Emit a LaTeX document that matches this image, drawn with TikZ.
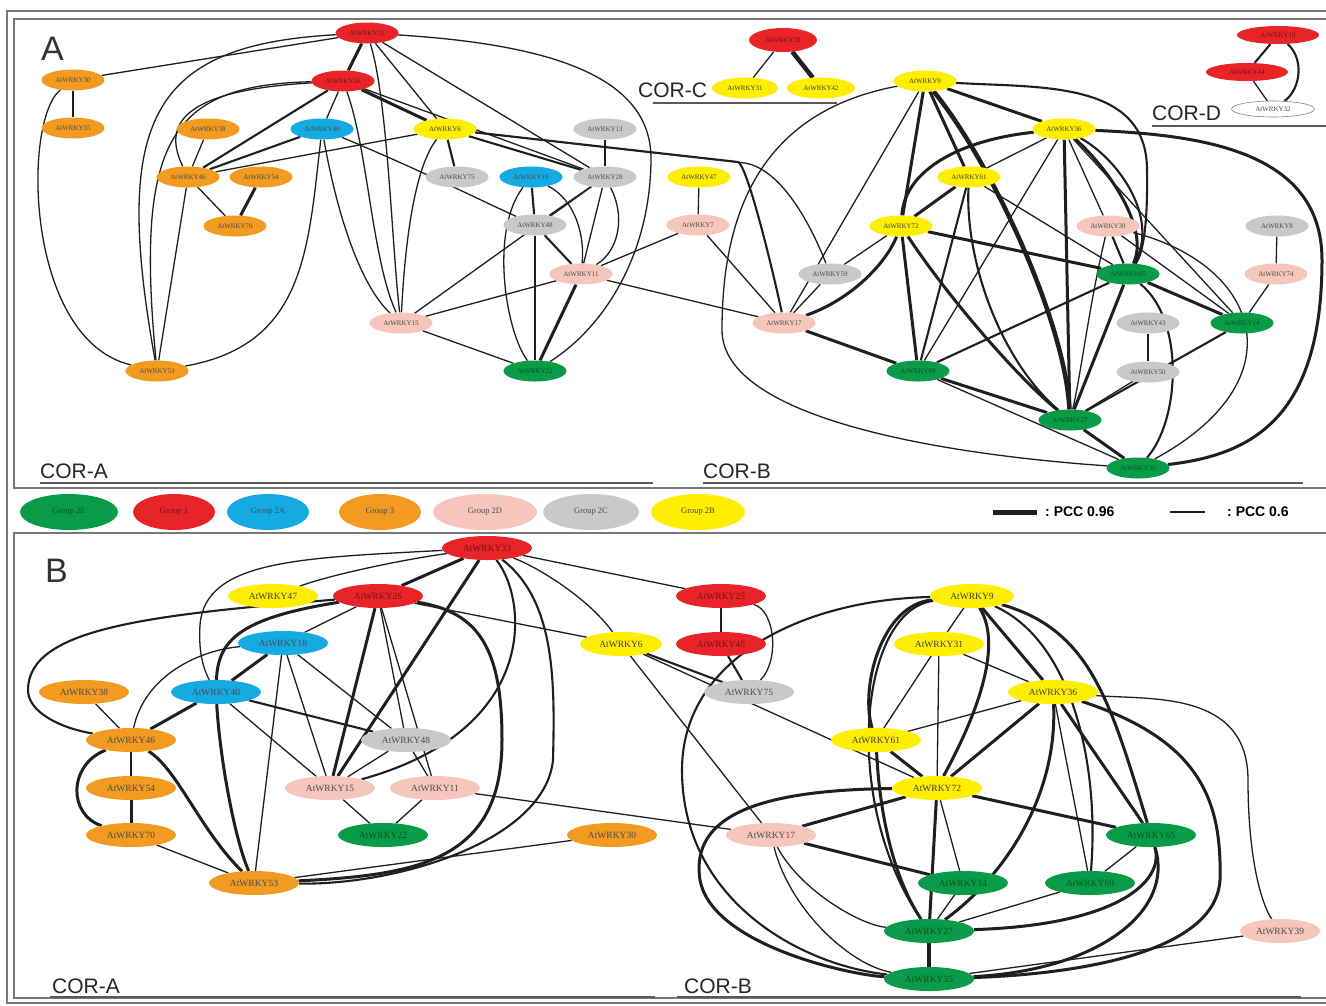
\documentclass[tikz,border=0pt]{standalone}
\usepackage{fontspec}
\setmainfont{Liberation Serif}
\newfontfamily\corfont{Liberation Sans}
\usetikzlibrary{shapes.geometric,backgrounds}
\definecolor{cG}{RGB}{10,155,72}
\definecolor{cR}{RGB}{232,36,40}
\definecolor{cB}{RGB}{20,170,226}
\definecolor{cO}{RGB}{243,154,32}
\definecolor{cP}{RGB}{246,198,186}
\definecolor{cC}{RGB}{200,201,203}
\definecolor{cY}{RGB}{255,238,0}
\definecolor{cFrame}{RGB}{120,120,120}
\tikzset{
 na/.style={ellipse,inner sep=0pt,minimum width=63pt,minimum height=21pt,font=\fontsize{7}{8}\selectfont},
 nb/.style={ellipse,inner sep=0pt,minimum width=90pt,minimum height=24pt,font=\fontsize{9.5}{10}\selectfont},
 lg/.style={ellipse,inner sep=0pt,minimum width=92pt,minimum height=36pt,font=\fontsize{8.5}{9}\selectfont},
 fG/.style={fill=cG,text=cG!55!black},
 fR/.style={fill=cR,text=cR!50!black},
 fB/.style={fill=cB,text=black!70},
 fO/.style={fill=cO,text=black!70},
 fP/.style={fill=cP,text=black!70},
 fC/.style={fill=cC,text=black!70},
 fY/.style={fill=cY,text=black!75},
 e1/.style={draw=black!88,line width=1.3pt},
 e2/.style={draw=black!88,line width=2.1pt},
 e3/.style={draw=black!88,line width=3pt},
 e4/.style={draw=black!88,line width=4.5pt},
 frm/.style={draw=cFrame,line width=1.3pt},
 cor/.style={font=\corfont\fontsize{21}{21}\selectfont,text=black!85,inner sep=0pt,anchor=base west},
 plab/.style={font=\corfont\fontsize{34}{34}\selectfont,text=black!80,inner sep=0pt,anchor=base west},
 uline/.style={draw=black!65,line width=1.2pt},
}
\begin{document}
\begin{tikzpicture}[x=1pt,y=-1pt]
\useasboundingbox (0,0) rectangle (1326,1005);
% ---------- Panel A nodes: COR-A ----------
\node[na,fR] (aR1) at (367,33) {AtWRKY33};
\node[na,fR] (aR2) at (343,81) {AtWRKY26};
\node[na,fO] (a30) at (73,80) {AtWRKY30};
\node[na,fO] (a55) at (73,128) {AtWRKY55};
\node[na,fO] (a38) at (208,129) {AtWRKY38};
\node[na,fB] (aB1) at (322,129) {AtWRKY40};
\node[na,fY] (a6) at (445,129) {AtWRKY6};
\node[na,fC] (a13) at (605,129) {AtWRKY13};
\node[na,fO] (a46) at (188,177) {AtWRKY46};
\node[na,fO] (a54) at (261,177) {AtWRKY54};
\node[na,fC] (a75) at (457,177) {AtWRKY75};
\node[na,fB] (aB2) at (531,177) {AtWRKY18};
\node[na,fC] (a28) at (605,177) {AtWRKY28};
\node[na,fY] (a47) at (699,177) {AtWRKY47};
\node[na,fO] (a70) at (235,226) {AtWRKY70};
\node[na,fC] (a48) at (535,225) {AtWRKY48};
\node[na,fP] (a7) at (698,225) {AtWRKY7};
\node[na,fP] (a11) at (581,274) {AtWRKY11};
\node[na,fC] (a59) at (830,274) {AtWRKY59};
\node[na,fP] (a15) at (401,323) {AtWRKY15};
\node[na,fP] (a17) at (784,323) {AtWRKY17};
\node[na,fO] (a53) at (157,371) {AtWRKY53};
\node[na,fG] (aG) at (535,371) {AtWRKY22};
% COR-C
\node[na,fR,minimum width=68pt,minimum height=24pt] (cR) at (783,40) {AtWRKY20};
\node[na,fY,minimum width=66pt] (c31) at (745,88) {AtWRKY31};
\node[na,fY,minimum width=68pt] (c42) at (821,88) {AtWRKY42};
% COR-D
\node[na,fR,minimum width=82pt,minimum height=18pt] (dR1) at (1278,35) {AtWRKY10};
\node[na,fR,minimum width=82pt,minimum height=18pt] (dR2) at (1247,72) {AtWRKY44};
\node[na,draw=black!50,line width=0.6pt,fill=white,text=black!70,minimum width=83pt,minimum height=16pt] (d32) at (1273,109) {AtWRKY32};
% COR-B (A)
\node[na,fY] (b9) at (925,81) {AtWRKY9};
\node[na,fY] (b36) at (1064,129) {AtWRKY36};
\node[na,fY] (b61) at (969,177) {AtWRKY61};
\node[na,fY] (b72) at (901,226) {AtWRKY72};
\node[na,fP] (b39) at (1108,226) {AtWRKY39};
\node[na,fC] (b8) at (1277,226) {AtWRKY8};
\node[na,fG] (bG1) at (1128,274) {AtWRKY65};
\node[na,fP] (b74) at (1276,274) {AtWRKY74};
\node[na,fG] (bG2) at (1242,323) {AtWRKY14};
\node[na,fC] (b43) at (1148,323) {AtWRKY43};
\node[na,fC] (b50) at (1148,372) {AtWRKY50};
\node[na,fG] (bG3) at (918,371) {AtWRKY69};
\node[na,fG] (bG4) at (1070,420) {AtWRKY27};
\node[na,fG] (bG5) at (1138,468) {AtWRKY35};
% ---------- Legend ----------
\node[lg,fG,minimum width=98pt] (l1) at (69,512) {Group 2E};
\node[lg,fR,minimum width=82pt] (l2) at (174,512) {Group 1};
\node[lg,fB,minimum width=82pt] (l3) at (268,512) {Group 2A};
\node[lg,fO,minimum width=82pt] (l4) at (380,512) {Group 3};
\node[lg,fP,minimum width=104pt] (l5) at (485,512) {Group 2D};
\node[lg,fC,minimum width=96pt] (l6) at (591,512) {Group 2C};
\node[lg,fY,minimum width=94pt] (l7) at (698,512) {Group 2B};
\draw[line width=5pt,black!88] (993,512) -- (1037,512);
\node[font=\corfont\bfseries\fontsize{14}{14}\selectfont,anchor=west,inner sep=0pt] (pcc1) at (1045,512) {:\ PCC 0.96};
\draw[line width=2pt,black!88] (1170,512) -- (1205,512);
\node[font=\corfont\bfseries\fontsize{14}{14}\selectfont,anchor=west,inner sep=0pt] (pcc2) at (1227,512) {:\ PCC 0.6};
% ---------- Panel B nodes ----------
\node[nb,fR] (pRT) at (487,548) {AtWRKY33};
\node[nb,fR] (pRB) at (378,596) {AtWRKY26};
\node[nb,fY] (p47) at (273,596) {AtWRKY47};
\node[nb,fR] (pRC) at (721,596) {AtWRKY25};
\node[nb,fR] (pRD) at (721,644) {AtWRKY45};
\node[nb,fY,minimum width=82pt] (p6) at (621,644) {AtWRKY6};
\node[nb,fB] (pB1) at (283,643) {AtWRKY18};
\node[nb,fB] (pB2) at (216,692) {AtWRKY40};
\node[nb,fO] (p38) at (84,692) {AtWRKY38};
\node[nb,fC] (p75) at (749,692) {AtWRKY75};
\node[nb,fO] (p46) at (131,740) {AtWRKY46};
\node[nb,fC] (p48) at (406,740) {AtWRKY48};
\node[nb,fO] (p54) at (131,788) {AtWRKY54};
\node[nb,fP] (p15) at (330,788) {AtWRKY15};
\node[nb,fP] (p11) at (435,788) {AtWRKY11};
\node[nb,fO] (p70) at (131,835) {AtWRKY70};
\node[nb,fG] (pG) at (383,835) {AtWRKY22};
\node[nb,fO] (p30) at (612,835) {AtWRKY30};
\node[nb,fO] (p53) at (254,883) {AtWRKY53};
\node[nb,fY,minimum width=84pt] (q9) at (972,596) {AtWRKY9};
\node[nb,fY] (q31) at (939,644) {AtWRKY31};
\node[nb,fY] (q36) at (1053,692) {AtWRKY36};
\node[nb,fY] (q61) at (876,740) {AtWRKY61};
\node[nb,fY] (q72) at (937,788) {AtWRKY72};
\node[nb,fP] (q17) at (771,835) {AtWRKY17};
\node[nb,fG] (qGA) at (1151,835) {AtWRKY65};
\node[nb,fG] (qGB) at (963,883) {AtWRKY14};
\node[nb,fG] (qGC) at (1090,883) {AtWRKY69};
\node[nb,fG] (qGD) at (929,931) {AtWRKY27};
\node[nb,fG] (qGE) at (929,979) {AtWRKY35};
\node[nb,fP,minimum width=80pt] (q39) at (1280,931) {AtWRKY39};
% ---------- Labels ----------
\node[plab] (labA) at (41,60) {A};
\node[plab] (labB) at (45,582) {B};
\node[cor] (corA1) at (40,478) {COR-A};
\node[cor] (corB1) at (703,478) {COR-B};
\node[cor] (corC) at (638,97) {COR-C};
\node[cor] (corD) at (1152,120) {COR-D};
\node[cor] (corA2) at (52,993) {COR-A};
\node[cor] (corB2) at (684,993) {COR-B};
\begin{pgfonlayer}{background}
\fill[white] (0,0) rectangle (1326,1005);
\draw[frm] (7,11) rectangle (1340,1003);
\draw[frm] (14,19) rectangle (1340,488);
\draw[frm] (14,533) rectangle (1340,998);
\draw[uline] (40,483) -- (653,483);
\draw[uline] (703,483) -- (1303,483);
\draw[uline] (653,103) -- (837,103);
\draw[uline] (1152,126) -- (1330,126);
\draw[uline] (50,997) -- (655,997);
\draw[uline] (677,997) -- (1301,997);
% ---- Panel A edges ----
\draw[e1] (aR1) -- (a30);
\draw[e2] (a30) -- (a55);
\draw[e1] (a30) .. controls (22,120) and (25,340) .. (a53);
\draw[e1] (aR1) .. controls (150,45) and (112,120) .. (a53);
\draw[e1] (aR2) .. controls (170,85) and (135,140) .. (a53);
\draw[e1] (aR2) .. controls (190,90) and (160,120) .. (a46);
\draw[e2] (aR2) -- (a46);
\draw[e2] (aB1) -- (a46);
\draw[e1] (a6) -- (a46);
\draw[e1] (a38) -- (a46);
\draw[e1] (a46) -- (a70);
\draw[e3] (a54) -- (a70);
\draw[e1] (a46) -- (a53);
\draw[e3] (aR1) -- (aR2);
\draw[e1] (aR2) -- (aB1);
\draw[e1] (aR1) -- (a6);
\draw[e3] (aR2) -- (a6);
\draw[e1] (aR1) -- (a28);
\draw[e1] (aR2) -- (a28);
\draw[e2] (a6) -- (a28);
\draw[e2] (a6) -- (a75);
\draw[e1] (a13) -- (a28);
\draw[e1] (aR1) .. controls (560,45) and (652,80) .. (651,160) .. controls (650,260) and (600,330) .. (aG);
\draw[e1] (aB1) .. controls (420,170) and (480,200) .. (a48);
\draw[e1] (aB1) .. controls (308,250) and (305,345) .. (a53);
\draw[e1] (aB1) .. controls (340,230) and (365,290) .. (a15);
\draw[e1] (aR2) .. controls (368,150) and (372,260) .. (a15);
\draw[e1] (aR1) .. controls (388,100) and (392,250) .. (a15);
\draw[e1] (a6) .. controls (412,170) and (404,260) .. (a15);
\draw[e1] (a15) -- (a11);
\draw[e1] (a15) -- (a28);
\draw[e1] (a15) -- (aG);
\draw[e1] (a11) -- (a17);
\draw[e2] (aB2) -- (a48);
\draw[e1] (a28) -- (a48);
\draw[e1] (aB2) .. controls (490,230) and (505,330) .. (aG);
\draw[e1] (a48) -- (aG);
\draw[e3] (a11) -- (aG);
\draw[e2] (a48) -- (a11);
\draw[e1] (aB2) .. controls (575,200) and (585,235) .. (a11);
\draw[e1] (a28) -- (a11);
\draw[e1] (a28) .. controls (625,215) and (620,250) .. (a11);
\draw[e1] (a7) -- (a11);
\draw[e1] (a47) -- (a7);
\draw[e1] (a7) -- (a17);
\draw[e2] (a6) -- (738,162) .. controls (748,166) and (775,280) .. (a17);
\draw[e1] (a6) -- (745,163) .. controls (785,170) and (815,235) .. (a59);
\draw[e1] (a59) -- (a17);
\draw[e1] (a59) -- (b72);
\draw[e1] (b9) -- (a17);
\draw[e3] (a17) .. controls (850,300) and (885,265) .. (b72);
\draw[e1] (b9) .. controls (770,110) and (722,200) .. (722,330) .. controls (722,420) and (950,455) .. (bG5);
\draw[e3] (a17) -- (bG3);
\draw[e1] (cR) -- (c31);
\draw[e4] (cR) -- (c42);
\draw[e2] (dR1) -- (dR2);
\draw[e1] (dR2) -- (d32);
\draw[e2] (dR1) .. controls (1305,60) and (1300,90) .. (d32);
\draw[e3] (b9) -- (b36);
\draw[e3] (b9) -- (b61);
\draw[e3] (b9) -- (b72);
\draw[e4] (b9) .. controls (990,160) and (1065,320) .. (bG4);
\draw[e2] (b9) .. controls (1040,88) and (1147,80) .. (1147,170) .. controls (1148,230) and (1142,255) .. (bG1);
\draw[e1] (b36) -- (b61);
\draw[e3] (b36) .. controls (960,140) and (905,170) .. (b72);
\draw[e3] (b36) -- (bG4);
\draw[e1] (b36) -- (bG3);
\draw[e1] (b36) -- (b39);
\draw[e3] (b36) .. controls (1110,170) and (1150,230) .. (bG1);
\draw[e2] (b36) .. controls (1120,160) and (1160,220) .. (bG1);
\draw[e1] (b36) -- (bG2);
\draw[e3] (b36) .. controls (1200,135) and (1322,150) .. (1322,260) .. controls (1322,420) and (1250,455) .. (bG5);
\draw[e3] (b61) -- (b72);
\draw[e2] (b61) -- (bG3);
\draw[e2] (b61) .. controls (965,260) and (1000,360) .. (bG4);
\draw[e1] (b61) -- (bG1);
\draw[e3] (b72) -- (bG1);
\draw[e3] (b72) -- (bG3);
\draw[e3] (b72) .. controls (950,300) and (1020,380) .. (bG4);
\draw[e2] (b39) -- (bG1);
\draw[e1] (b39) -- (bG2);
\draw[e1] (b39) .. controls (1260,265) and (1300,380) .. (bG5);
\draw[e1] (b39) .. controls (1090,300) and (1080,380) .. (bG4);
\draw[e1] (b8) -- (b74);
\draw[e1] (b74) -- (bG2);
\draw[e1] (b43) -- (b50);
\draw[e1] (b50) -- (bG4);
\draw[e3] (bG1) -- (bG2);
\draw[e2] (bG1) -- (bG3);
\draw[e3] (bG1) -- (bG4);
\draw[e2] (bG1) .. controls (1185,320) and (1180,420) .. (bG5);
\draw[e3] (bG3) -- (bG4);
\draw[e1] (bG3) -- (bG5);
\draw[e3] (bG4) -- (bG5);
\draw[e2] (bG2) -- (bG4);
% ---- Panel B edges ----
\draw[e3] (pRT) -- (pRB);
\draw[e1] (pRT) .. controls (400,560) and (330,575) .. (p47);
\draw[e1] (pRT) .. controls (300,558) and (205,560) .. (200,625) .. controls (198,655) and (205,672) .. (pB2);
\draw[e2] (pRB) .. controls (150,615) and (28,628) .. (28,690) .. controls (28,712) and (60,728) .. (p46);
\draw[e3] (pRB) .. controls (240,618) and (218,640) .. (pB2);
\draw[e3] (pB2) .. controls (220,760) and (235,840) .. (p53);
\draw[e1] (pRB) -- (pB1);
\draw[e3] (pRB) -- (p15);
\draw[e1] (pRB) -- (p48);
\draw[e1] (pRB) -- (p11);
\draw[e3] (pRB) .. controls (480,612) and (502,650) .. (502,740) .. controls (502,860) and (420,875) .. (p53);
\draw[e2] (pRT) .. controls (555,600) and (555,680) .. (553,760) .. controls (545,840) and (400,885) .. (p53);
\draw[e3] (pRT) -- (p15);
\draw[e2] (pRT) .. controls (528,600) and (540,730) .. (p15);
\draw[e1] (pRT) .. controls (540,568) and (590,600) .. (p6);
\draw[e1] (pRT) -- (pRC);
\draw[e1] (pRC) -- (pRD);
\draw[e1] (pRC) .. controls (775,610) and (780,660) .. (p75);
\draw[e2] (pRD) -- (p75);
\draw[e2] (p6) -- (p75);
\draw[e1] (p6) -- (q17);
\draw[e1] (p6) -- (q72);
\draw[e1] (pRB) -- (p6);
\draw[e3] (pB1) -- (pB2);
\draw[e1] (pB1) .. controls (200,650) and (145,675) .. (p46);
\draw[e1] (pB1) -- (p15);
\draw[e1] (pB1) -- (p48);
\draw[e1] (pB1) -- (p53);
\draw[e3] (pB2) -- (p46);
\draw[e2] (pB2) -- (p48);
\draw[e1] (pB2) -- (p15);
\draw[e1] (p38) -- (p46);
\draw[e1] (p46) -- (p54);
\draw[e3] (p46) .. controls (68,765) and (68,815) .. (p70);
\draw[e3] (p46) .. controls (178,770) and (200,830) .. (p53);
\draw[e3] (p54) -- (p70);
\draw[e1] (p70) -- (p53);
\draw[e1] (p48) -- (p15);
\draw[e1] (p48) -- (p11);
\draw[e1] (p15) -- (pG);
\draw[e1] (p11) -- (pG);
\draw[e1] (p11) -- (q17);
\draw[e1] (p30) -- (p53);
\draw[e1] (q9) -- (q31);
\draw[e3] (q9) -- (q36);
\draw[e3] (q9) .. controls (880,605) and (860,690) .. (q61);
\draw[e3] (q9) .. controls (1000,640) and (985,700) .. (q72);
\draw[e3] (q9) .. controls (1090,630) and (1110,700) .. (qGA);
\draw[e2] (q9) .. controls (1070,640) and (1100,760) .. (qGC);
\draw[e2] (q9) .. controls (860,610) and (840,800) .. (qGD);
\draw[e2] (q9) .. controls (800,600) and (682,660) .. (682,770) .. controls (682,900) and (800,965) .. (qGE);
\draw[e1] (q31) -- (q36);
\draw[e1] (q31) -- (q61);
\draw[e1] (q31) -- (q72);
\draw[e1] (q36) -- (q61);
\draw[e3] (q36) -- (q72);
\draw[e3] (q36) .. controls (1058,800) and (1000,880) .. (qGD);
\draw[e1] (q36) -- (qGC);
\draw[e3] (q36) -- (qGA);
\draw[e3] (q36) .. controls (1200,740) and (1222,800) .. (1220,880) .. controls (1215,960) and (1050,975) .. (qGE);
\draw[e1] (q36) .. controls (1150,700) and (1248,690) .. (1248,780) .. controls (1248,860) and (1262,905) .. (q39);
\draw[e3] (q61) -- (q72);
\draw[e3] (q61) .. controls (880,820) and (895,880) .. (qGD);
\draw[e3] (q72) -- (q17);
\draw[e3] (q72) -- (qGA);
\draw[e1] (q72) -- (qGB);
\draw[e3] (q72) -- (qGD);
\draw[e3] (q72) .. controls (760,790) and (690,815) .. (700,880) .. controls (712,945) and (850,975) .. (qGE);
\draw[e3] (q17) -- (qGB);
\draw[e1] (q17) .. controls (800,890) and (860,925) .. (qGD);
\draw[e1] (q17) .. controls (790,910) and (850,965) .. (qGE);
\draw[e1] (qGA) -- (qGC);
\draw[e3] (qGA) .. controls (1165,880) and (1120,925) .. (qGD);
\draw[e3] (qGA) .. controls (1175,910) and (1100,970) .. (qGE);
\draw[e1] (qGB) -- (qGD);
\draw[e1] (qGC) -- (qGD);
\draw[e4] (qGD) -- (qGE);
\draw[e1] (qGE) -- (q39);
\end{pgfonlayer}
\end{tikzpicture}
\end{document}
